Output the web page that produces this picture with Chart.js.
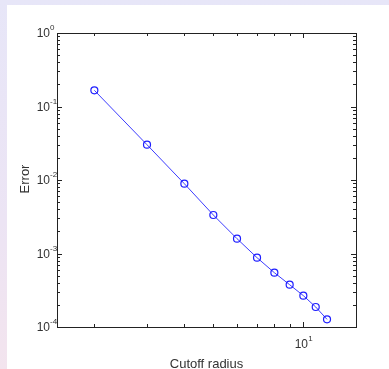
<!DOCTYPE html>
<html>
<head>
<meta charset="utf-8">
<script src="https://cdn.jsdelivr.net/npm/chart.js@4"></script>
<style>
  html, body { margin: 0; padding: 0; }
  body {
    width: 389px; height: 369px; overflow: hidden;
    background: linear-gradient(180deg, #e7e6f8 0%, #ece4f4 60%, #f3e4ee 100%);
    position: relative;
  }
  #panel { position: absolute; left: 7px; top: 5px; width: 382px; height: 364px; background: #fff; }
  canvas { display: block; }
</style>
</head>
<body>
<div id="panel"><canvas id="chartCanvas" width="382" height="364"></canvas></div>
<script>
// cutoff radius vs error
const radius = [2, 3, 4, 5, 6, 7, 8, 9, 10, 11, 12];
const error = [0.166, 0.0302, 0.0089, 0.00334, 0.00159, 0.000877, 0.000548, 0.000376, 0.000267, 0.000187, 0.000127];
const yTicks = [1, 0.1, 0.01, 0.001, 0.0001];
const yTickLabels = ['0', '-1', '-2', '-3', '-4'];
const xTicks = [10];
const xTickLabels = ['1'];

let points = radius.map((r, i) => ({ x: r, y: error[i] }));

const axesPlugin = {
  id: 'matlabAxes',
  afterDraw(chart) {
    const ctx = chart.ctx;
    const a = chart.chartArea;
    const xs = chart.scales.x, ys = chart.scales.y;
    ctx.save();
    ctx.strokeStyle = '#222';
    ctx.lineWidth = 1;
    ctx.strokeRect(Math.round(a.left) + 0.5, Math.round(a.top) + 0.5, Math.round(a.right - a.left), Math.round(a.bottom - a.top));

    ctx.beginPath();
    // y ticks (major + minor), both sides, inward
    for (let e = -4; e <= 0; e++) {
      for (let m = 1; m <= 9; m++) {
        let v = m * Math.pow(10, e);
        if (v > 1.0001) break;
        let py = Math.round(ys.getPixelForValue(v)) + 0.5;
        let len = m == 1 ? 5 : 3;
        ctx.moveTo(a.left, py); ctx.lineTo(a.left + len, py);
        ctx.moveTo(a.right, py); ctx.lineTo(a.right - len, py);
      }
    }
    // x ticks
    for (let m = 2; m <= 10; m++) {
      let px = Math.round(xs.getPixelForValue(m)) + 0.5;
      let len = m == 10 ? 5 : 3;
      ctx.moveTo(px, a.bottom); ctx.lineTo(px, a.bottom - len);
      ctx.moveTo(px, a.top); ctx.lineTo(px, a.top + len);
    }
    ctx.stroke();

    ctx.fillStyle = '#333';
    // y tick labels
    yTicks.forEach((v, i) => {
      let py = ys.getPixelForValue(v);
      ctx.font = '12px "Liberation Sans", Arial, sans-serif';
      ctx.textAlign = 'right';
      ctx.textBaseline = 'alphabetic';
      ctx.fillText('10', a.left - 7, py + 4);
      ctx.font = '8px "Liberation Sans", Arial, sans-serif';
      ctx.textAlign = 'left';
      ctx.fillText(yTickLabels[i], a.left - 7, py - 3);
    });
    // x tick labels
    xTicks.forEach((v, i) => {
      let px = xs.getPixelForValue(v);
      ctx.font = '12px "Liberation Sans", Arial, sans-serif';
      ctx.textAlign = 'center';
      ctx.fillText('10', px - 2, a.bottom + 21);
      ctx.font = '8px "Liberation Sans", Arial, sans-serif';
      ctx.textAlign = 'left';
      ctx.fillText(xTickLabels[i], px + 5, a.bottom + 14);
    });

    // axis titles
    ctx.font = '13px "Liberation Sans", Arial, sans-serif';
    ctx.textAlign = 'center';
    ctx.fillText('Cutoff radius', (a.left + a.right) / 2, a.bottom + 41);
    ctx.translate(22, (a.top + a.bottom) / 2 - 1);
    ctx.rotate(-Math.PI / 2);
    ctx.fillText('Error', 0, 0);
    ctx.restore();
  }
};

window.chart = new Chart('chartCanvas', {
  type: 'scatter',
  data: {
    datasets: [{
      data: points,
      showLine: true,
      borderColor: 'rgb(60,60,255)',
      borderWidth: 1,
      pointRadius: 3.5,
      pointBorderWidth: 1.2,
      pointBorderColor: 'rgb(30,30,255)',
      pointBackgroundColor: 'rgba(0,0,0,0)'
    }]
  },
  options: {
    responsive: false,
    animation: false,
    layout: { padding: { left: 50, top: 28, right: 33, bottom: 42 } },
    plugins: { legend: { display: false }, tooltip: { enabled: false } },
    scales: {
      x: { type: 'logarithmic', min: 1.5, max: 15, display: false },
      y: { type: 'logarithmic', min: 0.0001, max: 1, display: false }
    }
  },
  plugins: [axesPlugin]
});
</script>
</body>
</html>
